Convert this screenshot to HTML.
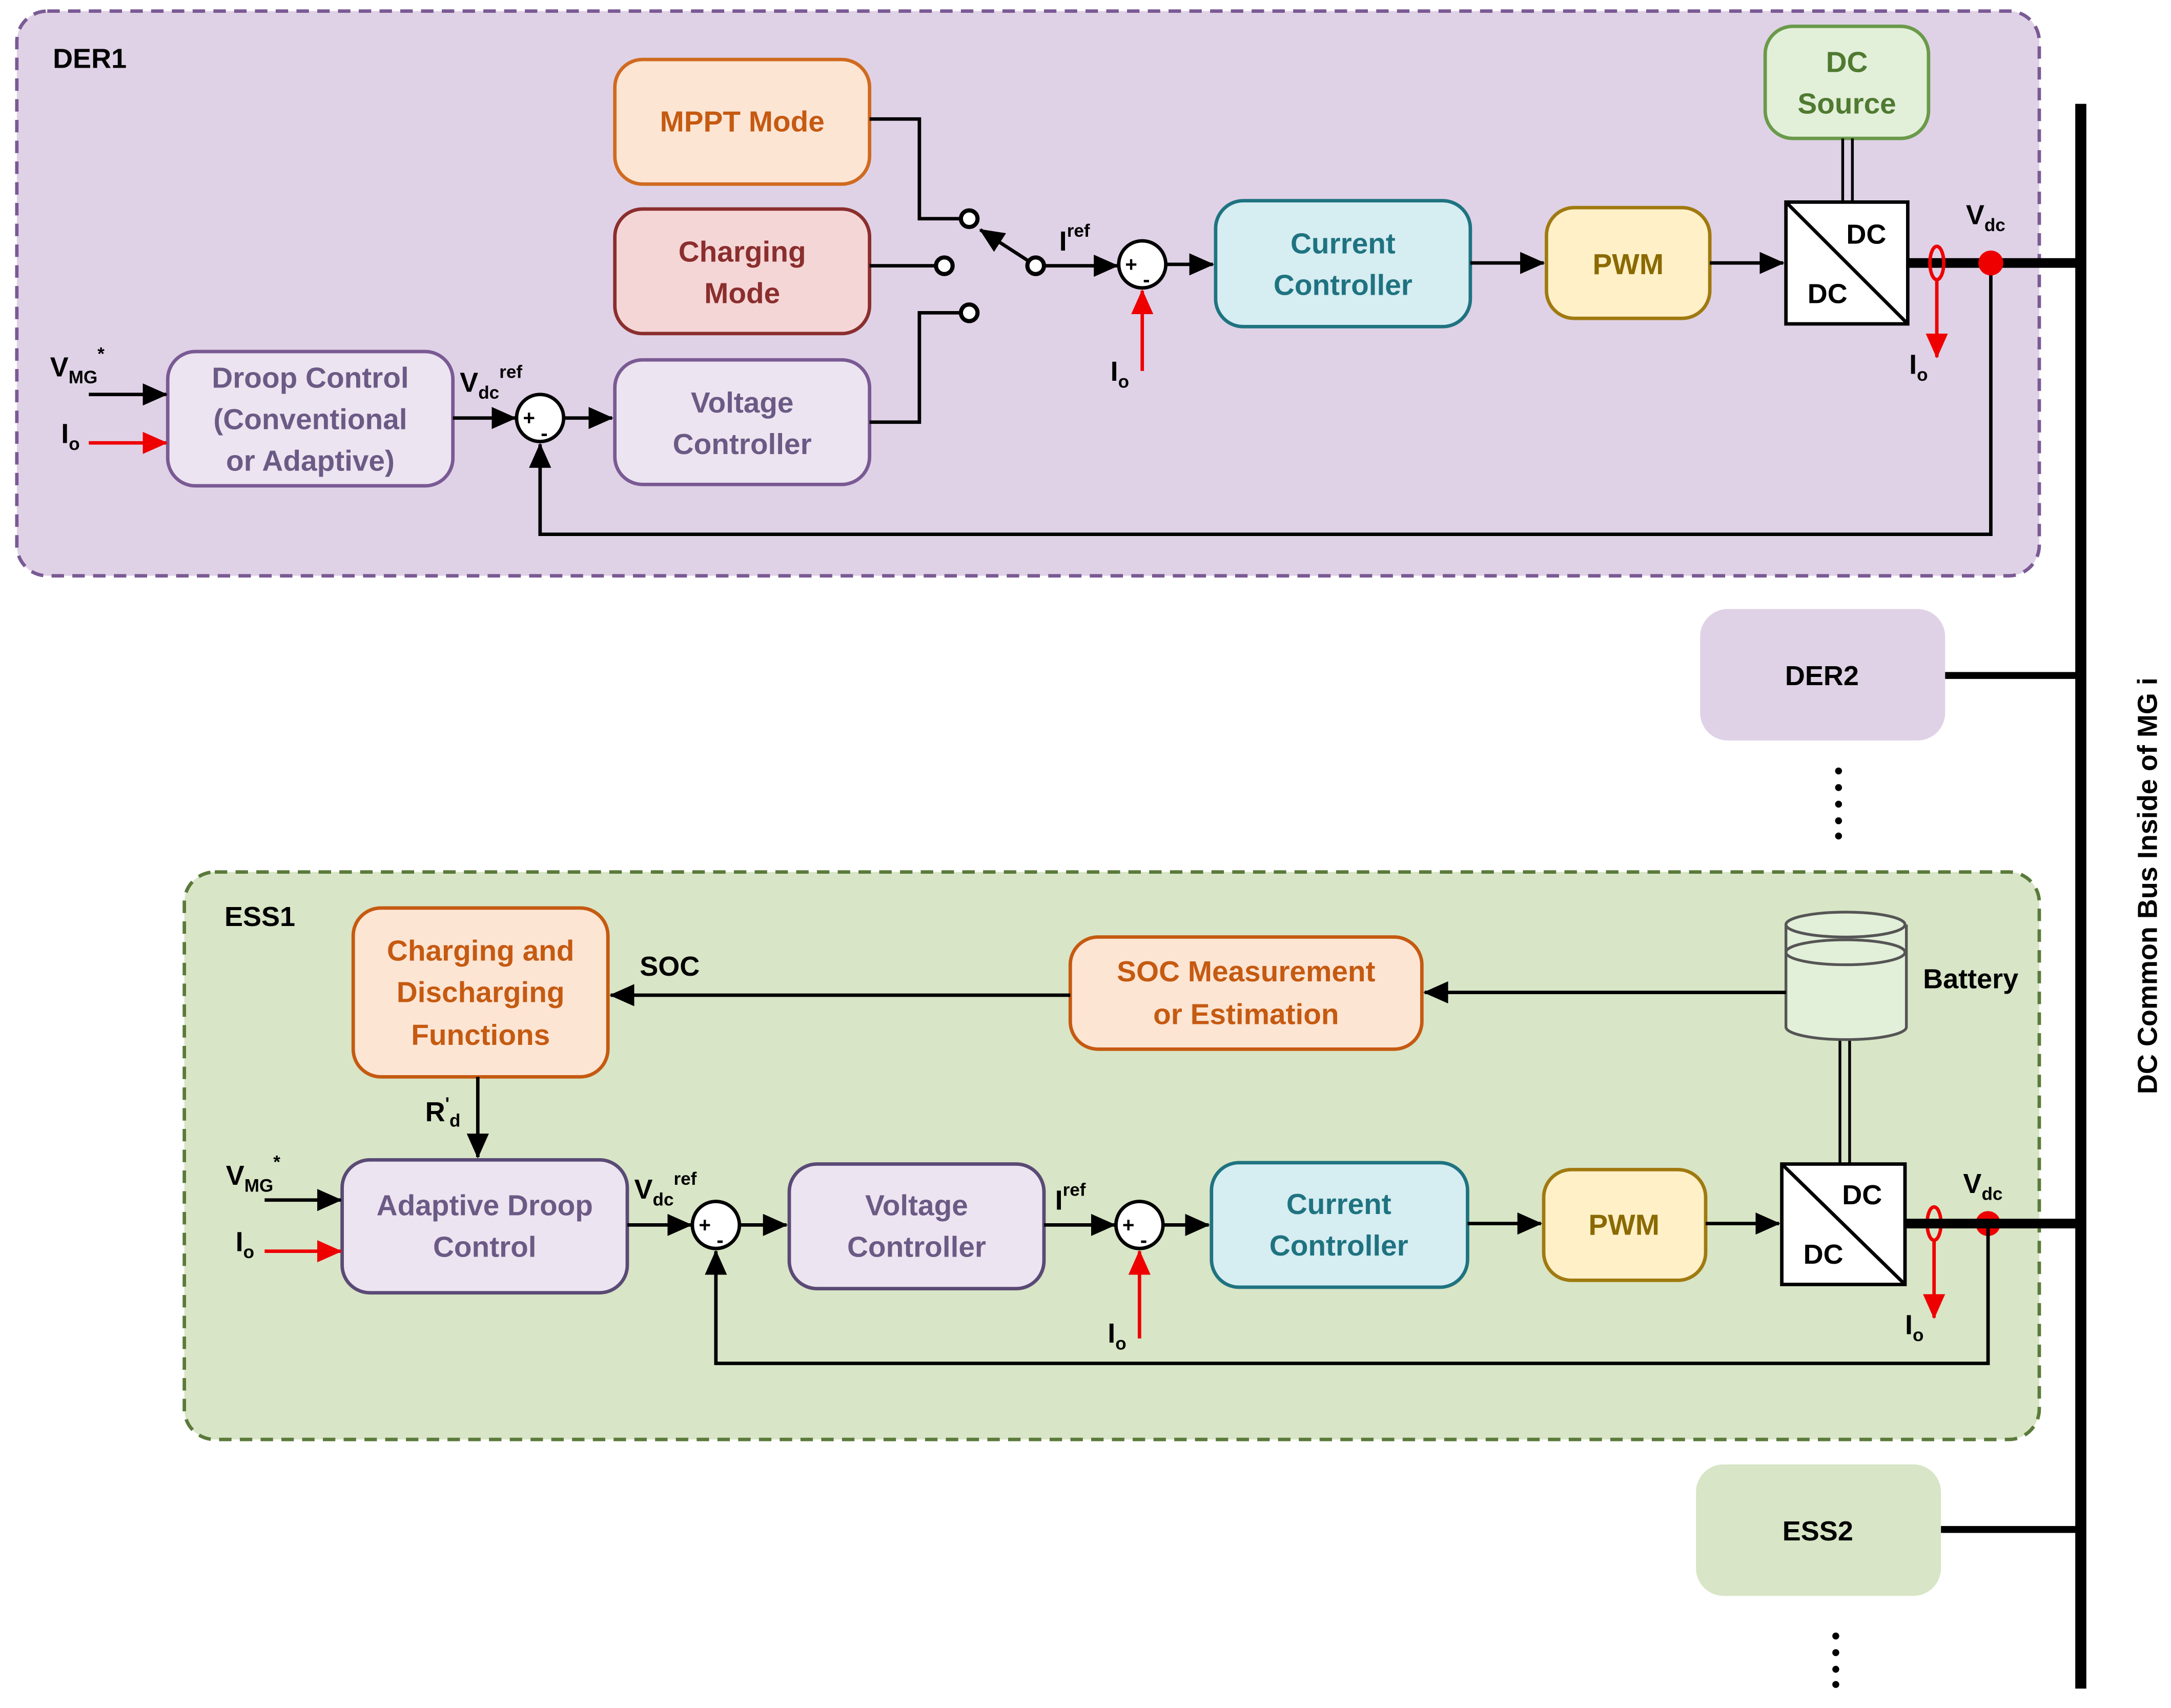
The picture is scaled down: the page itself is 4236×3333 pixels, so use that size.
<!DOCTYPE html>
<html><head><meta charset="utf-8"><style>
html,body{margin:0;padding:0;background:#fff}
svg{display:block}
text{font-family:"Liberation Sans",sans-serif;font-weight:bold}
</style></head><body>
<svg width="4236" height="3333" viewBox="0 0 1568 1234" xmlns="http://www.w3.org/2000/svg">
<defs>
<marker id="a" markerWidth="10" markerHeight="10" refX="9" refY="5" orient="auto" markerUnits="userSpaceOnUse"><path d="M0,0 L10,5 L0,10 z" fill="#000"/></marker>
<marker id="ab" markerWidth="18" markerHeight="16" refX="17" refY="8" orient="auto" markerUnits="userSpaceOnUse"><path d="M0,0 L18,8 L0,16 z" fill="#000"/></marker>
<marker id="r" markerWidth="18" markerHeight="16" refX="17" refY="8" orient="auto" markerUnits="userSpaceOnUse"><path d="M0,0 L18,8 L0,16 z" fill="#e00"/></marker>
</defs>
<rect width="1568" height="1234" fill="#fff"/>
<!-- DER1 -->
<rect x="12" y="8" width="1461" height="408" rx="22" fill="#dfd2e6" stroke="#7a5a94" stroke-width="2.5" stroke-dasharray="9,6"/>
<text x="38" y="49" font-size="20">DER1</text>
<!-- ESS1 -->
<rect x="133" y="630" width="1340" height="410" rx="22" fill="#d8e5c6" stroke="#5a7a3a" stroke-width="2.5" stroke-dasharray="9,6"/>
<text x="162" y="669" font-size="20">ESS1</text>
<!-- Bus -->
<line x1="1503" y1="75" x2="1503" y2="1220" stroke="#000" stroke-width="8"/>
<text transform="translate(1558,640) rotate(-90)" text-anchor="middle" font-size="20">DC Common Bus Inside of MG i</text>

<g font-size="21" text-anchor="middle">
<!-- DER1 boxes -->
<rect x="444" y="43" width="184" height="90" rx="20" fill="#fde5d4" stroke="#d06a20" stroke-width="2.5"/>
<text x="536" y="95" fill="#c55a11">MPPT Mode</text>
<rect x="444" y="151" width="184" height="90" rx="20" fill="#f5d6d6" stroke="#8b2e2e" stroke-width="2.5"/>
<text x="536" y="189" fill="#8b2e2e">Charging</text><text x="536" y="219" fill="#8b2e2e">Mode</text>
<rect x="444" y="260" width="184" height="90" rx="20" fill="#ece4f0" stroke="#7a5a94" stroke-width="2.5"/>
<text x="536" y="298" fill="#6b5a85">Voltage</text><text x="536" y="328" fill="#6b5a85">Controller</text>
<rect x="121" y="254" width="206" height="97" rx="20" fill="#ece4f0" stroke="#7a5a94" stroke-width="2.5"/>
<text x="224" y="280" fill="#6b5a85">Droop Control</text><text x="224" y="310" fill="#6b5a85">(Conventional</text><text x="224" y="340" fill="#6b5a85">or Adaptive)</text>
<rect x="878" y="145" width="184" height="91" rx="20" fill="#d6edf2" stroke="#1f7380" stroke-width="2.5"/>
<text x="970" y="183" fill="#1f7380">Current</text><text x="970" y="213" fill="#1f7380">Controller</text>
<rect x="1117" y="150" width="118" height="80" rx="20" fill="#fff0c8" stroke="#a07a10" stroke-width="2.5"/>
<text x="1176" y="198" fill="#8a6a00">PWM</text>
<rect x="1275" y="19" width="118" height="81" rx="20" fill="#e2efd9" stroke="#6a9a4a" stroke-width="2.5"/>
<text x="1334" y="52" fill="#4f7a30">DC</text><text x="1334" y="82" fill="#4f7a30">Source</text>
<!-- DER2 -->
<rect x="1228" y="440" width="177" height="95" rx="20" fill="#dfd2e6"/>
<text x="1316" y="495" font-size="20" fill="#000">DER2</text>
<!-- ESS1 boxes -->
<rect x="255" y="656" width="184" height="122" rx="20" fill="#fde5d4" stroke="#c55a11" stroke-width="2.5"/>
<text x="347" y="694" fill="#c55a11">Charging and</text><text x="347" y="724" fill="#c55a11">Discharging</text><text x="347" y="755" fill="#c55a11">Functions</text>
<rect x="773" y="677" width="254" height="81" rx="20" fill="#fde5d4" stroke="#c55a11" stroke-width="2.5"/>
<text x="900" y="709" fill="#c55a11">SOC Measurement</text><text x="900" y="740" fill="#c55a11">or Estimation</text>
<rect x="247" y="838" width="206" height="96" rx="20" fill="#ece4f0" stroke="#5a4a75" stroke-width="2.5"/>
<text x="350" y="878" fill="#6b5a85">Adaptive Droop</text><text x="350" y="908" fill="#6b5a85">Control</text>
<rect x="570" y="841" width="184" height="90" rx="20" fill="#ece4f0" stroke="#5a4a75" stroke-width="2.5"/>
<text x="662" y="878" fill="#6b5a85">Voltage</text><text x="662" y="908" fill="#6b5a85">Controller</text>
<rect x="875" y="840" width="185" height="90" rx="20" fill="#d6edf2" stroke="#1f7380" stroke-width="2.5"/>
<text x="967" y="877" fill="#1f7380">Current</text><text x="967" y="907" fill="#1f7380">Controller</text>
<rect x="1115" y="845" width="117" height="80" rx="20" fill="#fff0c8" stroke="#a07a10" stroke-width="2.5"/>
<text x="1173" y="892" fill="#8a6a00">PWM</text>
<!-- ESS2 -->
<rect x="1225" y="1058" width="177" height="95" rx="20" fill="#d8e5c6"/>
<text x="1313" y="1113" font-size="20" fill="#000">ESS2</text>
</g>

<!-- DC/DC converters -->
<g stroke="#000" stroke-width="2.5" fill="#fff">
<rect x="1290" y="146" width="88" height="88"/><line x1="1290" y1="146" x2="1378" y2="234"/>
<rect x="1287" y="841" width="89" height="87"/><line x1="1287" y1="841" x2="1376" y2="928"/>
</g>
<g font-size="20" text-anchor="middle">
<text x="1348" y="176">DC</text><text x="1320" y="219">DC</text>
<text x="1345" y="870">DC</text><text x="1317" y="913">DC</text>
</g>
<!-- DC source double line -->
<line x1="1331" y1="100" x2="1331" y2="146" stroke="#000" stroke-width="2"/>
<line x1="1338" y1="100" x2="1338" y2="146" stroke="#000" stroke-width="2"/>
<!-- Battery -->
<g stroke="#555" stroke-width="2" fill="#e2efd9">
<path d="M1290,668 L1290,742 A43,9 0 0 0 1377,742 L1377,668"/>
<ellipse cx="1333" cy="668" rx="43" ry="9"/>
<ellipse cx="1333" cy="688" rx="43" ry="9" fill="none"/>
</g>
<text x="1389" y="714" font-size="20">Battery</text>
<line x1="1329" y1="752" x2="1329" y2="841" stroke="#000" stroke-width="2"/>
<line x1="1336" y1="752" x2="1336" y2="841" stroke="#000" stroke-width="2"/>

<!-- DER1 connections -->
<g stroke="#000" stroke-width="2.5" fill="none">
<line x1="64" y1="285" x2="120" y2="285" marker-end="url(#ab)"/>
<line x1="327" y1="302" x2="372" y2="302" marker-end="url(#ab)"/>
<line x1="408" y1="302" x2="442" y2="302" marker-end="url(#ab)"/>
<polyline points="628,305 664,305 664,226 693,226"/>
<line x1="628" y1="192" x2="675" y2="192"/>
<polyline points="628,86 664,86 664,158 693,158"/>
<line x1="742" y1="188" x2="708" y2="166" marker-end="url(#ab)"/>
<line x1="755" y1="192" x2="807" y2="192" marker-end="url(#ab)"/>
<line x1="843" y1="191" x2="876" y2="191" marker-end="url(#ab)"/>
<line x1="1062" y1="190" x2="1115" y2="190" marker-end="url(#ab)"/>
<line x1="1235" y1="190" x2="1288" y2="190" marker-end="url(#ab)"/>
<polyline points="1438,190 1438,386 390,386 390,321" marker-end="url(#ab)"/>
</g>
<line x1="1378" y1="190" x2="1503" y2="190" stroke="#000" stroke-width="7"/>
<line x1="1405" y1="488" x2="1503" y2="488" stroke="#000" stroke-width="5"/>
<line x1="1402" y1="1105" x2="1503" y2="1105" stroke="#000" stroke-width="5"/>
<!-- switch terminals -->
<g fill="#fff" stroke="#000" stroke-width="3">
<circle cx="700" cy="158" r="6"/><circle cx="682" cy="192" r="6"/><circle cx="700" cy="226" r="6"/><circle cx="748" cy="192" r="6"/>
</g>
<!-- sum circles -->
<g fill="#fff" stroke="#000" stroke-width="2.5">
<circle cx="390" cy="302" r="17"/><circle cx="825" cy="191" r="17"/>
<circle cx="517" cy="885" r="17"/><circle cx="823" cy="885" r="17"/>
</g>
<g font-size="15" text-anchor="middle">
<text x="382" y="307">+</text><text x="393" y="318">-</text>
<text x="817" y="196">+</text><text x="828" y="207">-</text>
<text x="509" y="890">+</text><text x="520" y="901">-</text>
<text x="815" y="890">+</text><text x="826" y="901">-</text>
</g>
<!-- red -->
<g stroke="#e00" stroke-width="2.5" fill="none">
<line x1="64" y1="320" x2="120" y2="320" marker-end="url(#r)"/>
<line x1="825" y1="268" x2="825" y2="210" marker-end="url(#r)"/>
<ellipse cx="1399" cy="190" rx="5" ry="12"/>
<line x1="1399" y1="202" x2="1399" y2="258" marker-end="url(#r)"/>
<line x1="191" y1="904" x2="246" y2="904" marker-end="url(#r)"/>
<line x1="823" y1="967" x2="823" y2="904" marker-end="url(#r)"/>
<ellipse cx="1397" cy="884" rx="5" ry="12"/>
<line x1="1397" y1="896" x2="1397" y2="952" marker-end="url(#r)"/>
</g>
<circle cx="1438" cy="190" r="9" fill="#e00"/>
<circle cx="1436" cy="884" r="9" fill="#e00"/>

<!-- ESS1 connections -->
<g stroke="#000" stroke-width="2.5" fill="none">
<line x1="1290" y1="717" x2="1029" y2="717" marker-end="url(#ab)"/>
<line x1="773" y1="719" x2="441" y2="719" marker-end="url(#ab)"/>
<line x1="345" y1="778" x2="345" y2="836" marker-end="url(#ab)"/>
<line x1="191" y1="867" x2="246" y2="867" marker-end="url(#ab)"/>
<line x1="453" y1="885" x2="499" y2="885" marker-end="url(#ab)"/>
<line x1="535" y1="885" x2="568" y2="885" marker-end="url(#ab)"/>
<line x1="754" y1="885" x2="805" y2="885" marker-end="url(#ab)"/>
<line x1="841" y1="885" x2="873" y2="885" marker-end="url(#ab)"/>
<line x1="1060" y1="884" x2="1113" y2="884" marker-end="url(#ab)"/>
<line x1="1232" y1="884" x2="1285" y2="884" marker-end="url(#ab)"/>
<polyline points="1436,884 1436,985 517,985 517,904" marker-end="url(#ab)"/>
</g>
<line x1="1376" y1="884" x2="1503" y2="884" stroke="#000" stroke-width="7"/>

<!-- dots -->
<g fill="#000">
<circle cx="1328" cy="557" r="2.5"/><circle cx="1328" cy="569" r="2.5"/><circle cx="1328" cy="581" r="2.5"/><circle cx="1328" cy="593" r="2.5"/><circle cx="1328" cy="604" r="2.5"/>
<circle cx="1326" cy="1182" r="2.5"/><circle cx="1326" cy="1194" r="2.5"/><circle cx="1326" cy="1206" r="2.5"/><circle cx="1326" cy="1217" r="2.5"/>
</g>

<!-- labels -->
<g font-size="20">
<text x="36" y="272">V<tspan font-size="13" dy="5">MG</tspan><tspan font-size="13" dy="-17">*</tspan></text>
<text x="44" y="320">I<tspan font-size="13" dy="5">o</tspan></text>
<text x="332" y="283">V<tspan font-size="13" dy="5">dc</tspan><tspan font-size="13" dy="-15">ref</tspan></text>
<text x="765" y="181">I<tspan font-size="13" dy="-10">ref</tspan></text>
<text x="802" y="275">I<tspan font-size="13" dy="5">o</tspan></text>
<text x="1420" y="162">V<tspan font-size="13" dy="5">dc</tspan></text>
<text x="1379" y="270">I<tspan font-size="13" dy="5">o</tspan></text>
<text x="462" y="705">SOC</text>
<text x="307" y="810">R<tspan font-size="13" dy="-8">'</tspan><tspan font-size="13" dy="12">d</tspan></text>
<text x="163" y="856">V<tspan font-size="13" dy="5">MG</tspan><tspan font-size="13" dy="-17">*</tspan></text>
<text x="170" y="904">I<tspan font-size="13" dy="5">o</tspan></text>
<text x="458" y="866">V<tspan font-size="13" dy="5">dc</tspan><tspan font-size="13" dy="-15">ref</tspan></text>
<text x="762" y="874">I<tspan font-size="13" dy="-10">ref</tspan></text>
<text x="800" y="970">I<tspan font-size="13" dy="5">o</tspan></text>
<text x="1418" y="862">V<tspan font-size="13" dy="5">dc</tspan></text>
<text x="1376" y="964">I<tspan font-size="13" dy="5">o</tspan></text>
</g>
</svg>
</body></html>
